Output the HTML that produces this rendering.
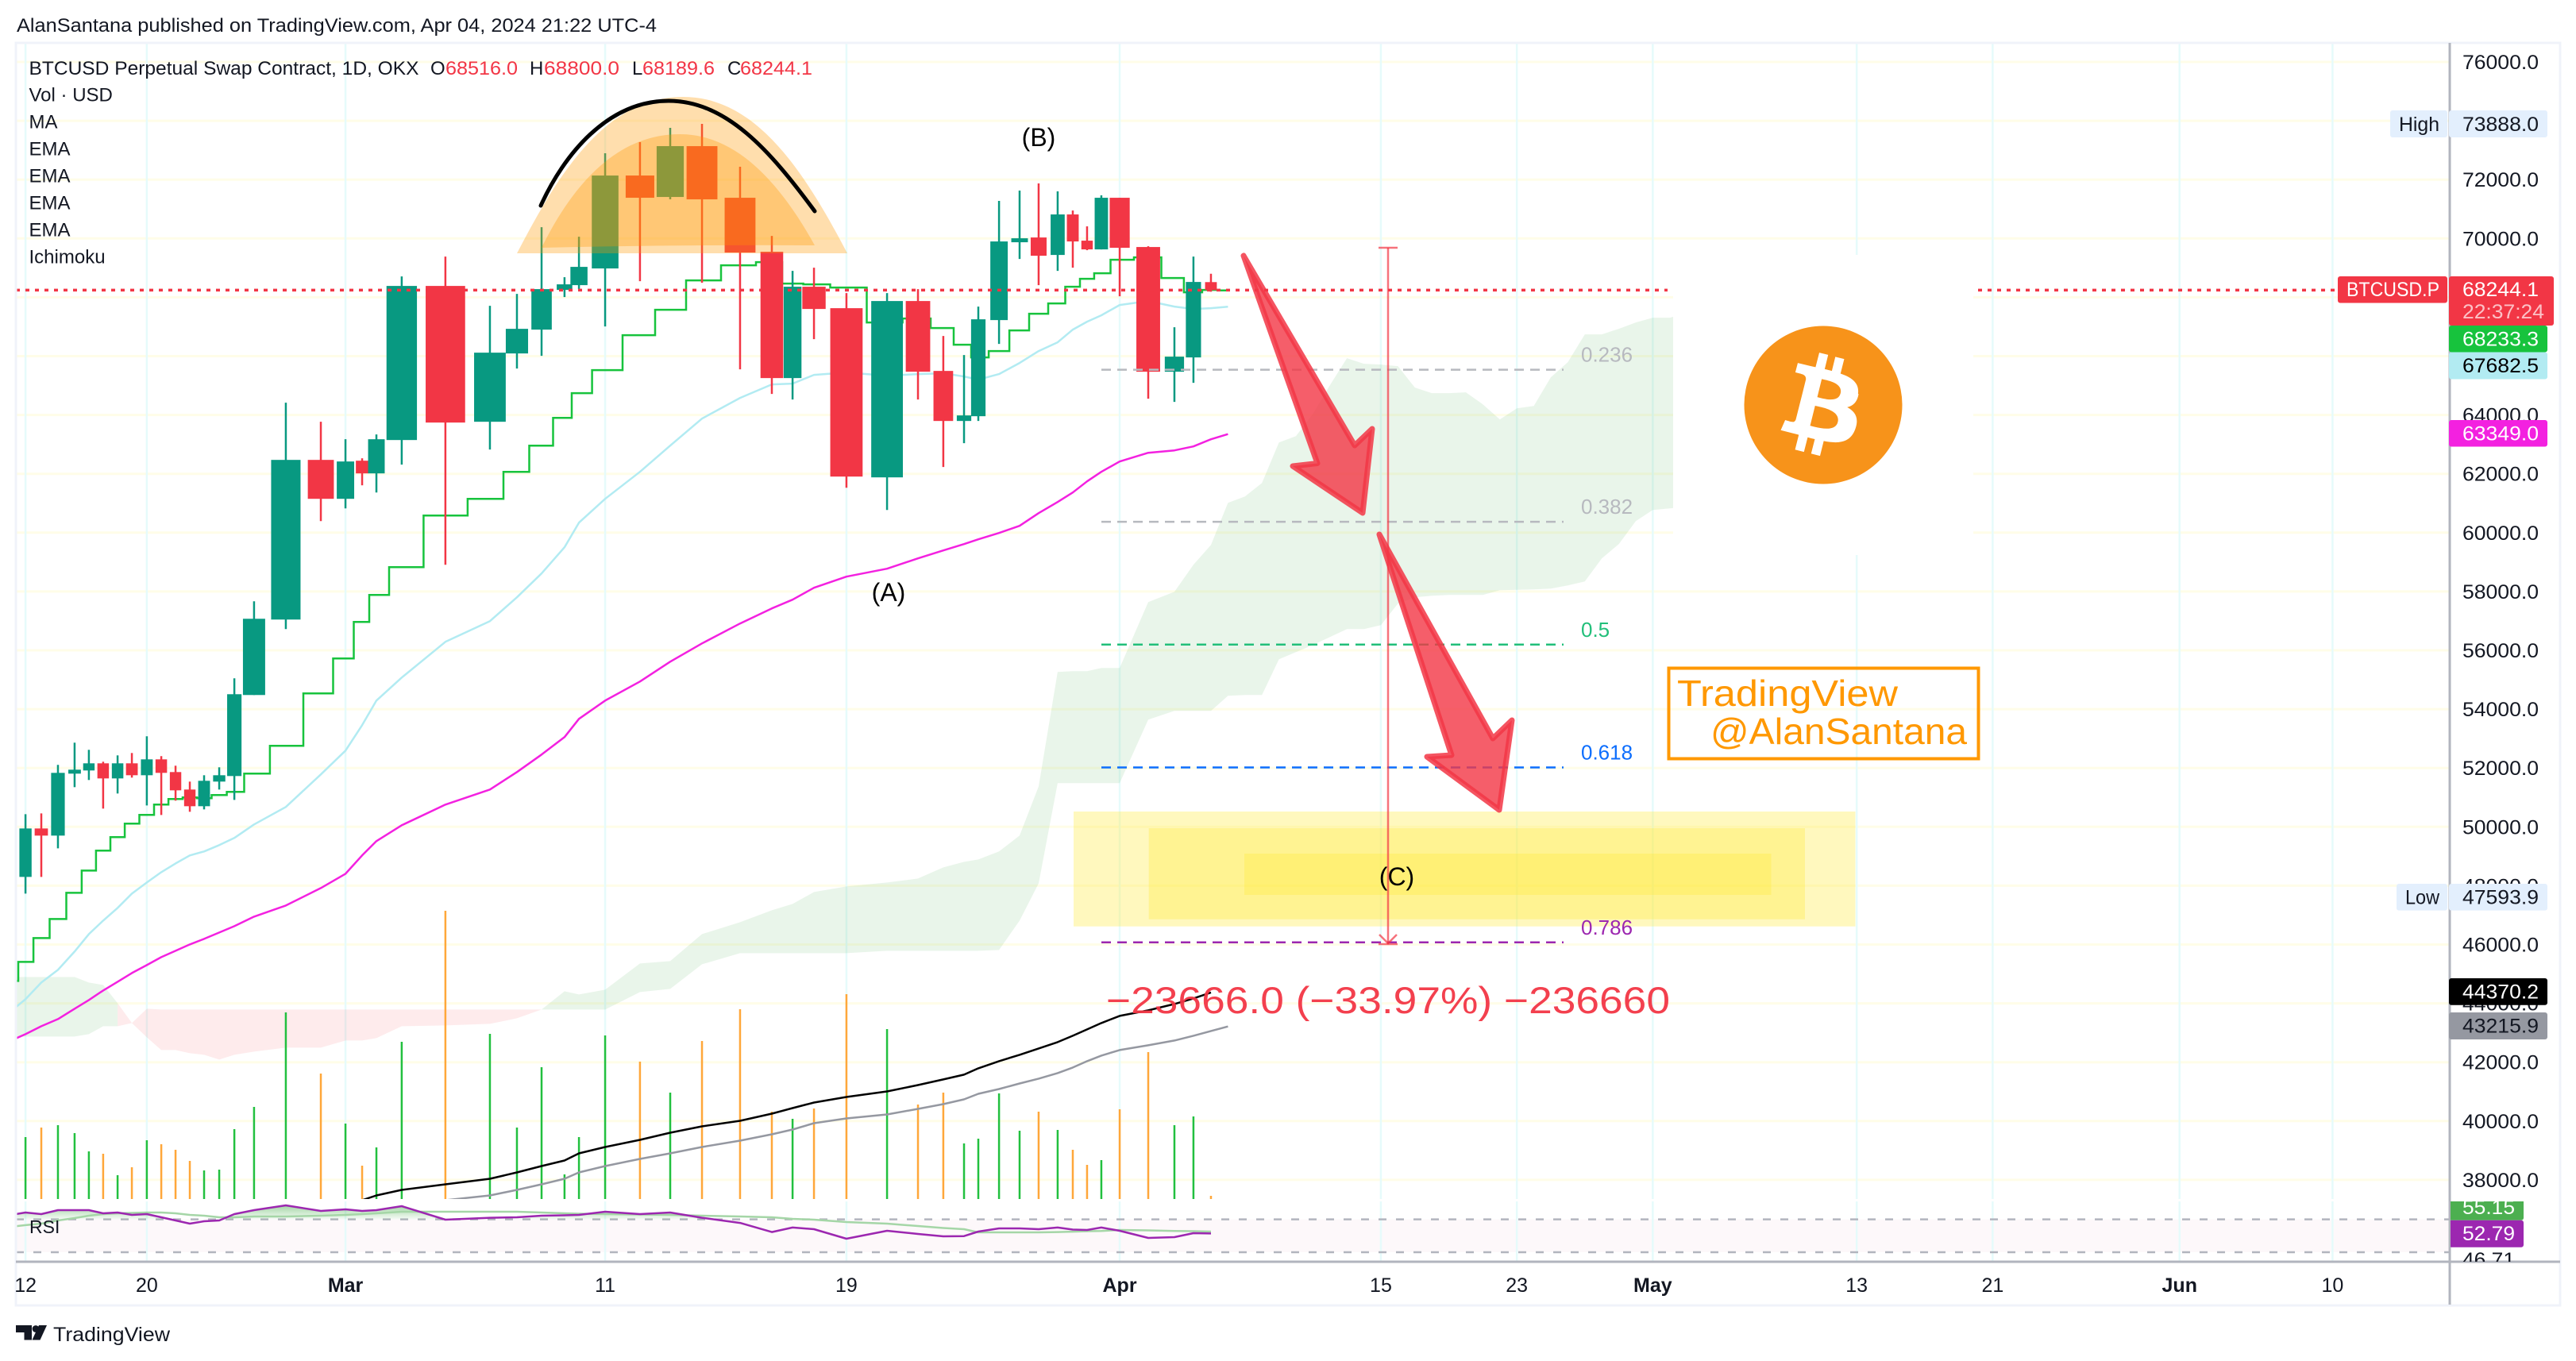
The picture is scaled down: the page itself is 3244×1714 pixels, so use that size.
<!DOCTYPE html>
<html lang="en">
<head>
<meta charset="utf-8">
<title>BTCUSD Perpetual Swap Contract 1D chart</title>
<style>
html,body{margin:0;padding:0;background:#fff;width:3244px;height:1714px;overflow:hidden}
svg{display:block;font-family:"Liberation Sans",sans-serif}
.axis-text{font-size:25px;fill:#131722}
.legend-text{font-size:24px;fill:#131722}
.ohlc-value{font-size:24px;fill:#F23645}
</style>
</head>
<body>
<svg id="chart" xmlns="http://www.w3.org/2000/svg" width="3244" height="1714" viewBox="0 0 3244 1714">
  <defs>
    <clipPath id="clip-main"><rect x="20" y="54" width="3065" height="1456"/></clipPath>
    <clipPath id="clip-rsi"><rect x="20" y="1513" width="3065" height="76"/></clipPath>
    <clipPath id="clip-rsi-upper"><rect x="20" y="1513" width="3065" height="22.6"/></clipPath>
    <clipPath id="clip-rsi-axis"><rect x="3086" y="1513" width="138" height="76"/></clipPath>
    <linearGradient id="rsi-fill" gradientUnits="userSpaceOnUse" x1="0" y1="1515" x2="0" y2="1536">
      <stop offset="0" stop-color="#4CAF50" stop-opacity="0.6"/>
      <stop offset="1" stop-color="#4CAF50" stop-opacity="0.04"/>
    </linearGradient>
  </defs>
  <rect x="0" y="0" width="3244" height="1714" fill="#ffffff"/>
  <text x="21" y="40" font-size="24" fill="#131722" textLength="806" lengthAdjust="spacingAndGlyphs">AlanSantana published on TradingView.com, Apr 04, 2024 21:22 UTC-4</text>

  <rect x="20" y="1535.6" width="3065" height="41.4" fill="#FDF8FA"/>
  <g id="grid"></g>
  <rect x="20" y="1510" width="3065" height="3" fill="#ffffff"/>
  <g id="cloud" clip-path="url(#clip-main)"></g>

  <g>
    <rect x="1352" y="1022" width="984.5" height="144.7" fill="rgba(255,235,59,0.33)"/>
    <rect x="1446.7" y="1043" width="826.3" height="114.7" fill="rgba(255,235,59,0.33)"/>
    <rect x="1567" y="1075" width="663.5" height="52" fill="rgba(255,235,59,0.33)"/>
  </g>

  <g id="volume" clip-path="url(#clip-main)"></g>
  <g id="lines" clip-path="url(#clip-main)"></g>
  <g id="candles" clip-path="url(#clip-main)"></g>
  <g id="fib"></g>

  <g>
    <path d="M651,319 C700,225 760,122 860,122 C950,122 1010,210 1067,319 Z" fill="rgba(255,152,0,0.32)"/>
    <path d="M682,312 C720,235 775,169 856,169 C930,169 985,235 1026,309 Q850,308 682,312 Z" fill="rgba(255,152,0,0.32)"/>
    <path d="M681,259 C710,195 765,127 842,127 C915,127 970,190 1026,266" fill="none" stroke="#000000" stroke-width="5" stroke-linecap="round"/>
  </g>

  <g id="price-line"></g>

  <g>
    <line id="range-line" x1="1748" x2="1748" y1="312" y2="1189" stroke="rgba(242,54,69,0.7)" stroke-width="2.5"/>
    <line x1="1736" x2="1760" y1="312" y2="312" stroke="rgba(242,54,69,0.7)" stroke-width="2.5"/>
    <line x1="1736" x2="1760" y1="1189" y2="1189" stroke="rgba(242,54,69,0.7)" stroke-width="2.5"/>
    <path d="M1737,1177 L1748,1188 L1759,1177" fill="none" stroke="rgba(242,54,69,0.7)" stroke-width="2.5"/>
    <text x="1393" y="1276" font-size="47" fill="#F23645" fill-opacity="0.95" textLength="710" lengthAdjust="spacingAndGlyphs">−23666.0 (−33.97%) −236660</text>
  </g>

  <g>
    <polygon points="1566,322 1706,561 1728,540 1716,646 1628,587 1659,583.5" fill="rgba(242,54,69,0.8)" stroke="rgba(242,54,69,0.85)" stroke-width="7" stroke-linejoin="round"/>
    <polygon points="1737,673 1880,930 1904,907 1888,1020 1797,953 1828,951" fill="rgba(242,54,69,0.8)" stroke="rgba(242,54,69,0.85)" stroke-width="7" stroke-linejoin="round"/>
  </g>

  <text x="1119" y="757" font-size="32" fill="#000" text-anchor="middle">(A)</text>
  <text x="1308" y="184" font-size="32" fill="#000" text-anchor="middle">(B)</text>
  <text x="1759" y="1115" font-size="32" fill="#000" text-anchor="middle">(C)</text>

  <g>
    <rect x="2107" y="321" width="378" height="378" fill="#ffffff"/>
    <circle cx="2296" cy="510" r="99.5" fill="#F7931A"/>
    <path transform="translate(2196.5,410.5) scale(3.11)" fill="#ffffff" fill-rule="evenodd" d="M46.1 27.4c.6-4.3-2.6-6.6-7.1-8.1l1.5-5.9-3.6-.9-1.4 5.7c-.9-.2-1.9-.5-2.9-.7l1.4-5.8-3.6-.9-1.5 5.9c-.8-.2-1.5-.3-2.2-.5l-5-1.2-1 3.8s2.7.6 2.6.7c1.5.4 1.7 1.3 1.7 2.1l-1.7 6.8.4.1-.4-.1-2.4 9.5c-.2.5-.6 1.2-1.7.9 0 .1-2.6-.7-2.6-.7l-1.8 4.1 4.7 1.2c.9.2 1.7.4 2.6.7l-1.5 6 3.6.9 1.5-5.9c1 .3 1.9.5 2.9.7l-1.5 5.9 3.6.9 1.5-6c6.2 1.2 10.8.7 12.8-4.9 1.6-4.5-.1-7.1-3.3-8.8 2.3-.5 4.1-2.1 4.6-5.3zM37.9 38.9c-1.1 4.5-8.7 2.1-11.2 1.5l2-8.1c2.5.6 10.4 1.8 9.2 6.6zm1.1-11.6c-1 4.1-7.3 2-9.4 1.5l1.8-7.3c2.1.5 8.7 1.5 7.6 5.8z"/>
  </g>

  <g>
    <rect x="2101.5" y="841.5" width="390" height="114" fill="none" stroke="#FF9800" stroke-width="4"/>
    <text x="2112" y="889" font-size="46" fill="#FF9800" textLength="278" lengthAdjust="spacingAndGlyphs">TradingView</text>
    <text x="2154" y="937" font-size="46" fill="#FF9800" textLength="323" lengthAdjust="spacingAndGlyphs">@AlanSantana</text>
  </g>

  <g id="rsi"></g>
  <text x="37" y="1553" font-size="23" fill="#131722">RSI</text>

  <g>
    <text class="legend-text" x="36.5" y="94" textLength="491" lengthAdjust="spacingAndGlyphs">BTCUSD Perpetual Swap Contract, 1D, OKX</text>
    <text class="legend-text" x="542" y="94">O</text>
    <text class="ohlc-value" x="561" y="94" textLength="91" lengthAdjust="spacingAndGlyphs">68516.0</text>
    <text class="legend-text" x="667" y="94">H</text>
    <text class="ohlc-value" x="685" y="94" textLength="95" lengthAdjust="spacingAndGlyphs">68800.0</text>
    <text class="legend-text" x="796" y="94">L</text>
    <text class="ohlc-value" x="809" y="94" textLength="91" lengthAdjust="spacingAndGlyphs">68189.6</text>
    <text class="legend-text" x="916" y="94">C</text>
    <text class="ohlc-value" x="932" y="94" textLength="91" lengthAdjust="spacingAndGlyphs">68244.1</text>
    <text class="legend-text" x="36.5" y="127.5">Vol · USD</text>
    <text class="legend-text" x="36.5" y="161.5">MA</text>
    <text class="legend-text" x="36.5" y="195.5">EMA</text>
    <text class="legend-text" x="36.5" y="229.5">EMA</text>
    <text class="legend-text" x="36.5" y="263.5">EMA</text>
    <text class="legend-text" x="36.5" y="297.5">EMA</text>
    <text class="legend-text" x="36.5" y="331.5">Ichimoku</text>
  </g>

  <rect x="20" y="54" width="3204" height="1590" fill="none" stroke="#F0F3FA" stroke-width="3"/>
  <line x1="3085" x2="3085" y1="54" y2="1643" stroke="#B2B5BE" stroke-width="3"/>
  <line x1="20" x2="3224" y1="1589" y2="1589" stroke="#B2B5BE" stroke-width="3"/>
  <g id="price-ticks"></g>
  <g id="time-ticks"></g>

  <g>
    <rect x="3010" y="139" width="72" height="34" rx="3" fill="#E3EFFD"/>
    <text class="axis-text" x="3021" y="165" textLength="51" lengthAdjust="spacingAndGlyphs">High</text>
    <rect x="3084" y="139" width="124" height="34" rx="3" fill="#E3EFFD"/>
    <text class="axis-text" x="3101" y="165" textLength="96" lengthAdjust="spacingAndGlyphs">73888.0</text>

    <rect x="2944" y="348" width="138" height="33.5" rx="3" fill="#F23645"/>
    <text class="axis-text" x="2955" y="373" style="fill:#fff" textLength="117" lengthAdjust="spacingAndGlyphs">BTCUSD.P</text>
    <rect x="3084" y="348" width="132" height="62" rx="3" fill="#F23645"/>
    <text class="axis-text" x="3101" y="373" style="fill:#fff" textLength="96" lengthAdjust="spacingAndGlyphs">68244.1</text>
    <text class="axis-text" x="3101" y="401" style="fill:#FCC1C6" textLength="103" lengthAdjust="spacingAndGlyphs">22:37:24</text>

    <rect x="3084" y="410" width="124" height="33.5" rx="3" fill="#17C33D"/>
    <text class="axis-text" x="3101" y="435.5" style="fill:#fff" textLength="96" lengthAdjust="spacingAndGlyphs">68233.3</text>
    <rect x="3084" y="443.5" width="124" height="34" rx="3" fill="#B2EBF2"/>
    <text class="axis-text" x="3101" y="469" style="fill:#000" textLength="96" lengthAdjust="spacingAndGlyphs">67682.5</text>
    <rect x="3084" y="529" width="124" height="33.5" rx="3" fill="#F321E0"/>
    <text class="axis-text" x="3101" y="554.5" style="fill:#fff" textLength="96" lengthAdjust="spacingAndGlyphs">63349.0</text>

    <rect x="3018" y="1113" width="64" height="33.6" rx="3" fill="#E3EFFD"/>
    <text class="axis-text" x="3029" y="1138.5" textLength="43" lengthAdjust="spacingAndGlyphs">Low</text>
    <rect x="3084" y="1113" width="124" height="33.6" rx="3" fill="#E3EFFD"/>
    <text class="axis-text" x="3101" y="1138.5" textLength="96" lengthAdjust="spacingAndGlyphs">47593.9</text>

    <rect x="3084" y="1232" width="124" height="33.7" rx="3" fill="#000000"/>
    <text class="axis-text" x="3101" y="1257.5" style="fill:#fff" textLength="96" lengthAdjust="spacingAndGlyphs">44370.2</text>
    <rect x="3084" y="1275" width="124" height="34" rx="3" fill="#9598A1"/>
    <text class="axis-text" x="3101" y="1300.5" style="fill:#131722" textLength="96" lengthAdjust="spacingAndGlyphs">43215.9</text>

    <g clip-path="url(#clip-rsi-axis)">
      <rect x="3084" y="1503" width="94" height="33.7" rx="3" fill="#4CAF50"/>
      <text class="axis-text" x="3101" y="1529" style="fill:#fff" textLength="66" lengthAdjust="spacingAndGlyphs">55.15</text>
      <rect x="3084" y="1536.7" width="94" height="34" rx="3" fill="#9C27B0"/>
      <text class="axis-text" x="3101" y="1562" style="fill:#fff" textLength="66" lengthAdjust="spacingAndGlyphs">52.79</text>
      <text class="axis-text" x="3101" y="1595" textLength="66" lengthAdjust="spacingAndGlyphs">46.71</text>
    </g>
  </g>

  <g>
    <path fill="#131722" d="M20,1669 H40 V1687.5 H30.5 V1678 H20 Z M59,1669 L50.5,1687.5 H40.5 L49,1669 Z"/>
    <circle cx="45" cy="1673.5" r="4.4" fill="#131722"/>
    <text x="67" y="1689" font-size="25" fill="#131722" textLength="147" lengthAdjust="spacingAndGlyphs">TradingView</text>
  </g>
</svg>

<script>
// ---- Chart data ----
// Session timeline of every daily bar in axis slots (the chart's time axis is not uniform before the last bar)
const barSlots = [1.50,2.43,3.41,4.39,5.23,6.07,6.92,7.76,8.64,9.49,10.33,11.17,12.01,12.90,13.79,14.95,16.82,18.88,20.33,21.31,22.15,23.64,26.21,28.83,30.42,31.87,33.22,34.07,35.61,37.66,39.44,41.31,43.55,45.42,46.64,47.90,49.81,52.20,54.02,55.51,56.73,57.57,58.79,60.00,61.12,62.24,63.13,63.97,64.81,65.89,67.57,69.11,70.23,71.26];
const slotBeforeFirst = 0.65;
const slotAfterLast = 72.26;
const closingSlot = 71.95;

const opens  = [48298,49945,49702,51808,51916,52159,51646,52159,51754,52294,51862,51268,50701,51538,51727,54481,57046,62473,61150,62446,62014,63148,68386,63769,66091,66901,68251,68413,68980,72139,71410,73138,71383,69547,65254,68359,67630,61879,67873,65497,63796,63958,67225,69871,70033,69439,70816,69925,69628,71383,69709,65470,65956,68516];
const highs  = [50431,50458,52105,52861,52618,52213,52429,52510,53077,52402,52078,51538,51754,52024,55048,57667,64417,63769,63175,62527,63337,68710,69385,67711,68116,70384,68683,70060,72895,73273,73759,73894,72436,70087,68899,69007,68143,68143,68278,66685,66037,67684,71275,71626,71869,71599,70951,70411,71464,71383,69736,66982,69385,68800];
const lows   = [47731,48298,49270,51349,51592,50620,51133,51673,50728,50404,50890,50512,50593,51268,50917,54481,56722,60394,60826,61609,61366,62311,58909,62824,65578,66010,68008,68278,67009,68548,71329,68494,65551,64714,64525,66577,61528,60772,64525,62230,63040,63796,66415,69304,68413,68899,69007,69601,69628,68035,64552,64444,65092,68189.6];
const closes = [49945,49702,51835,51943,52159,51646,52159,51754,52294,51835,51241,50701,51565,51754,54508,57073,62473,61150,62419,62014,63175,68386,63742,66118,66928,68278,68440,69034,72139,71383,73138,71329,69520,65254,68359,67603,61906,67873,65470,63796,63985,67252,69898,70006,69412,70816,69898,69628,71383,69682,65470,65983,68521,68244.1];
const volumes = [78,90,93,83,60,57,30,40,74,69,62,48,36,37,88,116,235,158,95,42,65,198,363,208,90,166,31,78,206,173,134,199,239,110,101,114,258,214,119,134,70,76,133,86,110,87,62,43,49,113,185,93,104,4];

// Indicator series: first value is one bar before the visible range, last value one bar after the last candle
const baseLine = [44761,45409,46219,46867,47758,48514,49189,49648,50107,50404,50755,50944,50998,50971,51079,51187,51808,52753,54535,55723,56965,57883,58828,60583,61150,62068,62959,63904,64741,65524,66712,67576,68575,69088,69196,68467,68440,68332,67144,67279,66955,66388,65956,66172,66874,67441,67792,68359,68629,68818,69277,69358,68656,68170,68251,68233.3];
const emaFast = [43735,44140,44707,45139,45760,46354,46813,47245,47731,48109,48460,48757,49027,49162,49378,49621,50080,50674,51781,52591,53455,54292,55075,56290,56992,57802,58612,59503,60340,61150,62068,62959,63877,64579,65038,65065,65362,65443,65335,65389,65416,65308,65200,65389,65767,66172,66469,66901,67171,67387,67738,67873,67684,67603,67630,67682.5];
const emaSlow = [42736,42952,43222,43465,43816,44113,44437,44734,45031,45301,45571,45787,46003,46192,46408,46624,46948,47326,47920,48406,49027,49513,50053,50755,51268,51862,52456,53050,53671,54292,54940,55615,56236,56911,57424,57721,58126,58504,58774,59125,59395,59611,59773,59989,60232,60664,61042,61366,61744,62068,62419,62716,62797,62932,63175,63349];
// Long moving averages, starting at bars 19 and 22
const maBlackStartBar = 19;
const maBlack = [37309,37471,37660,37849,38038,38254,38470,38659,38902,39118,39361,39604,39820,40009,40252,40441,40630,40819,41008,41224,41413,41575,41791,42034,42250,42466,42682,42898,43114,43330,43573,43762,43978,44167,44370.2];
const maGreyStartBar = 22;
const maGrey = [37309,37471,37660,37849,38038,38254,38470,38713,38902,39118,39334,39550,39712,39928,40090,40225,40414,40576,40738,40927,41089,41278,41440,41629,41818,42034,42223,42412,42574,42736,42898,43060,43215.9];

// Ichimoku cloud edges: index 0 is one bar before the visible range, then one value per bar including future bars
const cloudUpper = [44896,44896,44896,44896,44896,44707,44626,44005,43330,43816,43789,43789,43789,43789,43789,43789,43789,43789,43789,43789,43789,43789,43789,43789,43789,43789,43789,44410,44302,44464,45355,45436,46354,46759,47164,47380,47785,47974,48109,48244,48622,48811,48892,49162,49702,51376,55264,55291,55291,55399,55399,57640,57991,58909,59584,61015,61231,61690,63067,63283,64039,65011,65929,65740,65713,65659,64930,64741,64741,64768,64363,63850,64228,64309,65281,65794,66739,66739,66928,67144,67306,67306,67468];
const cloudLower = [42871,42871,42871,42871,42871,42952,43222,43222,43330,42844,42412,42412,42304,42250,42088,42250,42358,42493,42493,42736,42736,42817,43222,43249,43303,43492,43789,43789,43789,43789,44383,44491,45328,45706,45706,45706,45706,45706,45787,45787,45787,45787,45787,45814,46813,48082,51484,51484,51484,51484,51484,53644,53941,53941,53941,54454,54481,54481,55696,55939,56182,56452,56722,56722,56857,57586,57802,57856,57883,57883,57883,58045,58058,58072,58099,58207,58342,59125,59611,60394,60772,60826,60880];
const cloudFlips = [7, 26];

// RSI pane
const rsiValues = [75.4,78.3,76.4,81.2,81.2,81.2,77.3,78.3,75.4,76.4,72.5,68.6,64.8,67.7,68.6,76.4,81.2,87.0,80.2,82.2,80.2,81.2,86.0,69.6,71.9,72.5,74.4,74.9,75.4,79.3,76.4,78.3,71.9,65.7,54.5,60.0,58.0,46.4,56.1,52.2,49.3,49.6,55.1,59.0,59.0,58.0,60.0,57.5,57.1,60.0,56.1,47.4,48.4,53.2,52.79];
const rsiSmooth = [60.9,62.9,64.8,68.6,71.5,74.4,76.4,77.3,77.8,78.3,78.3,77.3,75.4,74.4,72.5,72.5,73.5,73.5,74.4,75.4,76.4,77.3,79.3,79.3,79.3,79.3,78.3,77.3,76.9,76.4,75.9,75.4,74.4,73.5,72.5,70.6,69.6,66.7,64.8,61.9,59.5,58.0,54.2,54.2,54.2,54.2,54.5,55.0,55.6,55.9,57.1,56.6,55.9,55.6,55.15];
const rsiBands = [70, 30];

// Axes
const priceTicks = [76000,74000,72000,70000,68000,66000,64000,62000,60000,58000,56000,54000,52000,50000,48000,46000,44000,42000,40000,38000];
const timeTickBars = [0,8,18,28,36,49,63,71,79,91,99,110,119];
const timeTickLabels = ['12','20','Mar','11','19','Apr','15','23','May','13','21','Jun','10'];

// Fibonacci retracement
const fibHigh = 73888;
const fibLow = 38500;
const fibRatios = [0.236,0.382,0.5,0.618,0.786];
const fibLabels = ['0.236','0.382','0.5','0.618','0.786'];
const fibColors = ['#B7B9BF','#B7B9BF','#22BF7A','#0D6EFD','#9C27B0'];
const lastPrice = 68244.1;

// ---- Axis functions ----
const SLOT_PX = 21.4;
const xSlot = t => t * SLOT_PX;
const xBar = i => i <= 53 ? xSlot(barSlots[i]) : xSlot(barSlots[53] + (i - 53));
const yPrice = p => 78 + (76000 - p) * 0.03705;
const yVolume = v => 1510 - v;
const yRsi = v => 1535.6 + (70 - v) * 1.035;
const lineSlots = [slotBeforeFirst].concat(barSlots, [slotAfterLast]);
const xLine = j => xSlot(lineSlots[j]);
const xCloud = j => j === 0 ? xSlot(slotBeforeFirst) : xBar(j - 1);

const NS = 'http://www.w3.org/2000/svg';
function el(parent, tag, attrs, text) {
  const n = document.createElementNS(NS, tag);
  for (const k in attrs) n.setAttribute(k, attrs[k]);
  if (text !== undefined) n.textContent = text;
  parent.appendChild(n);
  return n;
}
const g = id => document.getElementById(id);

// ---- Grid ----
priceTicks.forEach(p => {
  const gl = el(g('grid'), 'line', {x1: 20, x2: 3085, y1: yPrice(p), y2: yPrice(p), stroke: '#FFFDE8', 'stroke-width': 3});
  
  
});
timeTickBars.forEach(b => {
  const gl = el(g('grid'), 'line', {x1: xBar(b), x2: xBar(b), y1: 55, y2: 1589, stroke: '#E6FBFB', 'stroke-width': 2.5});
  
  
});

// ---- Cloud ----
function cloudRun(from, to, fill, name) {
  let top = [], bottom = [];
  for (let j = from; j <= to; j++) {
    top.push(xCloud(j).toFixed(1) + ',' + yPrice(cloudUpper[j]).toFixed(1));
    bottom.unshift(xCloud(j).toFixed(1) + ',' + yPrice(cloudLower[j]).toFixed(1));
  }
  const poly = el(g('cloud'), 'polygon', {points: top.concat(bottom).join(' '), fill: fill});
  
  
}
cloudRun(0, cloudFlips[0], 'rgba(76,175,80,0.12)', 'cloud-bullish-segment');
cloudRun(cloudFlips[0], cloudFlips[1], 'rgba(242,54,69,0.1)', 'cloud-bearish-segment');
cloudRun(cloudFlips[1], cloudUpper.length - 1, 'rgba(76,175,80,0.12)', 'cloud-bullish-segment');

// ---- Volume ----
volumes.forEach((v, i) => {
  const up = closes[i] >= opens[i];
  const bar = el(g('volume'), 'rect', {x: xBar(i) - 1.25, y: yVolume(v), width: 2.5, height: v, fill: up ? '#22C03F' : '#FFA73A'});
  
  
});

// ---- Indicator lines ----
function polyline(values, xFn, yFn, color, width, name, parent, startJ) {
  const pts = values.map((v, k) => xFn(k + (startJ || 0)).toFixed(1) + ',' + yFn(v).toFixed(1)).join(' ');
  const l = el(parent, 'polyline', {points: pts, fill: 'none', stroke: color, 'stroke-width': width, 'stroke-linejoin': 'round'});
  
  
  return l;
}
polyline(maGrey, xLine, yPrice, '#9598A1', 2.5, 'ma-grey-line', g('lines'), maGreyStartBar + 1);
polyline(maBlack, xLine, yPrice, '#000000', 2.5, 'ma-black-line', g('lines'), maBlackStartBar + 1);
polyline(emaFast, xLine, yPrice, '#B2EBF2', 2.5, 'ema-fast-line', g('lines'));
polyline(emaSlow, xLine, yPrice, '#F321E0', 2.5, 'ema-slow-line', g('lines'));

let stepPts = [];
baseLine.forEach((v, j) => {
  const left = j === 0 ? xLine(0) : (xLine(j - 1) + xLine(j)) / 2;
  const right = j === baseLine.length - 1 ? xLine(j) : (xLine(j) + xLine(j + 1)) / 2;
  stepPts.push(left.toFixed(1) + ',' + yPrice(v).toFixed(1));
  stepPts.push(right.toFixed(1) + ',' + yPrice(v).toFixed(1));
});
const baseLineEl = el(g('lines'), 'polyline', {points: stepPts.join(' '), fill: 'none', stroke: '#17C33D', 'stroke-width': 2.5});



// ---- Candles ----
opens.forEach((o, i) => {
  const c = closes[i];
  const color = c >= o ? '#089981' : '#F23645';
  const x = xBar(i);
  const prevSlot = i === 0 ? slotBeforeFirst : barSlots[i - 1];
  const nextSlot = i === barSlots.length - 1 ? closingSlot : barSlots[i + 1];
  const cell = xSlot(nextSlot - prevSlot) / 2;
  const w = cell * 0.94 - 2.5;
  const wick = el(g('candles'), 'line', {x1: x, x2: x, y1: yPrice(highs[i]), y2: yPrice(lows[i]), stroke: color, 'stroke-width': 2.5});
  
  
  const top = yPrice(Math.max(o, c));
  const body = el(g('candles'), 'rect', {x: x - w / 2, y: top, width: w, height: Math.max(2, yPrice(Math.min(o, c)) - top), fill: color});
  
  
});

// ---- Fibonacci levels ----
fibRatios.forEach((r, i) => {
  const y = yPrice(fibHigh - r * (fibHigh - fibLow));
  const level = el(g('fib'), 'line', {x1: 1387, x2: 1969, y1: y, y2: y, stroke: fibColors[i], 'stroke-width': 2.5, 'stroke-dasharray': '12 8'});
  
  
  const label = el(g('fib'), 'text', {x: 1991, y: y - 10, 'font-size': 26, fill: fibColors[i]}, fibLabels[i]);
  
  
});

// ---- Current price line ----
const yLast = yPrice(lastPrice);
const priceSegment = el(g('price-line'), 'line', {x1: 20, x2: 2100, y1: yLast, y2: yLast, stroke: '#F23645', 'stroke-width': 3.5, 'stroke-dasharray': '5 7'});


const priceSegment2 = el(g('price-line'), 'line', {x1: 2491, x2: 2944, y1: yLast, y2: yLast, stroke: '#F23645', 'stroke-width': 3.5, 'stroke-dasharray': '5 7'});



// ---- RSI pane ----
const rsiGroup = g('rsi');
rsiBands.forEach(b => {
  const band = el(rsiGroup, 'line', {x1: 20, x2: 3085, y1: yRsi(b), y2: yRsi(b), stroke: '#B2B5BE', 'stroke-width': 2.5, 'stroke-dasharray': '10 12'});
  
  
});
const rsiPts = rsiValues.map((v, j) => xLine(j).toFixed(1) + ',' + yRsi(v).toFixed(1));
const y70 = yRsi(rsiBands[0]);
const areaPts = [xLine(0).toFixed(1) + ',' + y70].concat(rsiPts, [xLine(rsiValues.length - 1).toFixed(1) + ',' + y70]);
const rsiArea = el(rsiGroup, 'polygon', {points: areaPts.join(' '), fill: 'url(#rsi-fill)', 'clip-path': 'url(#clip-rsi-upper)'});


const rsiClip = el(rsiGroup, 'g', {'clip-path': 'url(#clip-rsi)'});


polyline(rsiSmooth, xLine, yRsi, '#A5D6A7', 2.5, 'rsi-smoothing-line', rsiClip);
polyline(rsiValues, xLine, yRsi, '#9C27B0', 2.5, 'rsi-line', rsiClip);

// ---- Axes ----
priceTicks.forEach(p => {
  const t = el(g('price-ticks'), 'text', {x: 3101, y: yPrice(p) + 9, class: 'axis-text', textLength: 96, lengthAdjust: 'spacingAndGlyphs'}, p.toFixed(1));
  
  
});
timeTickLabels.forEach((lab, i) => {
  const bold = isNaN(Number(lab));
  const t = el(g('time-ticks'), 'text', {x: xBar(timeTickBars[i]), y: 1627, 'font-size': 25, 'font-weight': bold ? 700 : 400, fill: '#131722', 'text-anchor': 'middle'}, lab);
  
  
});
</script>
</body>
</html>
